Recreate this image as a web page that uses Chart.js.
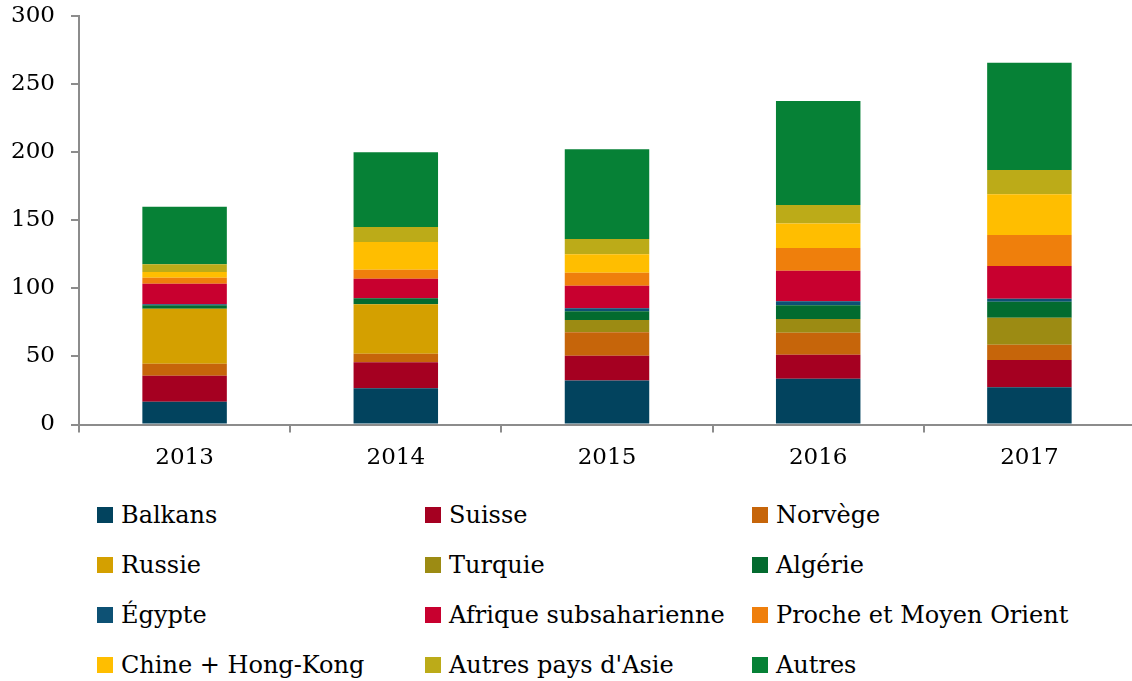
<!DOCTYPE html>
<html>
<head>
<meta charset="utf-8">
<script src="https://cdn.jsdelivr.net/npm/chart.js@4"></script>
<style>
  html, body { margin: 0; padding: 0; background: #fff; overflow: hidden; }
  #wrap { position: absolute; left: 0; top: 0; width: 1136px; height: 480px; }
  #legend {
    position: absolute; left: 97px; top: 490px;
    display: grid; grid-template-columns: 328px 327px 380px; grid-auto-rows: 50px;
    font-family: "DejaVu Serif", serif; font-size: 24px; color: #000;
  }
  .item { display: flex; align-items: center; white-space: nowrap; }
  .box { width: 16px; height: 16px; margin-right: 8px; flex: none; }
</style>
</head>
<body>
<div id="wrap"><canvas id="myChart"></canvas></div>
<div id="legend"></div>
<script>
const years = ['2013', '2014', '2015', '2016', '2017'];
const yTicks = [0, 50, 100, 150, 200, 250, 300];

const balkans = [16.7, 26.6, 32.4, 33.6, 27.3];
const suisse = [19.1, 19.1, 18.1, 17.7, 20.1];
const norvege = [8.8, 6.3, 17.2, 16.1, 11.2];
const russie = [40.4, 36.3, 0, 0, 0];
const turquie = [0, 0, 9.0, 10.1, 19.8];
const algerie = [2.5, 4.4, 6.4, 10.0, 11.8];
const egypte = [0.8, 0, 2.2, 3.0, 2.2];
const afrique = [15.1, 14.4, 16.6, 22.4, 24.0];
const proche = [4.4, 6.6, 9.6, 16.7, 22.8];
const chine = [4.2, 20.3, 13.5, 18.1, 29.9];
const asie = [5.6, 11.0, 11.2, 13.5, 17.8];
const autres = [42.4, 55.0, 65.9, 76.4, 78.8];

const series = [
    ['Balkans', balkans, '#02435e'],
    ['Suisse', suisse, '#a50021'],
    ['Norvège', norvege, '#c6650a'],
    ['Russie', russie, '#d4a000'],
    ['Turquie', turquie, '#9c8b13'],
    ['Algérie', algerie, '#036b2f'],
    ['Égypte', egypte, '#0d5174'],
    ['Afrique subsaharienne', afrique, '#c8002f'],
    ['Proche et Moyen Orient', proche, '#ef7f0c'],
    ['Chine + Hong-Kong', chine, '#ffbe00'],
    ['Autres pays d\'Asie', asie, '#bcab18'],
    ['Autres', autres, '#068136']
];

const font = { family: '"DejaVu Serif", serif', size: 23 };

const ctx = document.getElementById('myChart').getContext('2d');
const myChart = new Chart(ctx, {
    type: 'bar',
    data: {
        labels: years,
        datasets: series.map(s => ({
            label: s[0],
            data: s[1],
            backgroundColor: s[2],
            borderWidth: 0,
            barPercentage: 0.8,
            categoryPercentage: 0.5
        }))
    },
    options: {
        responsive: true,
        maintainAspectRatio: false,
        animation: false,
        layout: { padding: { top: 16, right: 1, left: 0, bottom: 0 } },
        plugins: { legend: { display: false }, tooltip: { enabled: false } },
        scales: {
            x: {
                stacked: true,
                afterFit: s => { s.height = 55.5; s.paddingLeft = 0; s.paddingRight = 0; },
                border: { color: '#8c8c8c', width: 2 },
                grid: { display: true, drawOnChartArea: false, offset: true, tickLength: 8, color: '#8c8c8c', lineWidth: 2 },
                ticks: { color: '#000', font: font, padding: 12 }
            },
            y: {
                stacked: true,
                min: 0,
                max: 300,
                afterFit: s => { s.width = 79; s.paddingTop = 0; s.paddingBottom = 0; },
                afterBuildTicks: s => { s.ticks = yTicks.map(v => ({ value: v })); },
                border: { color: '#8c8c8c', width: 2 },
                grid: { display: true, drawOnChartArea: false, tickLength: 8, color: '#8c8c8c', lineWidth: 2 },
                ticks: { color: '#000', font: font, padding: 16 }
            }
        }
    }
});

const legend = document.getElementById('legend');
series.forEach(s => {
    const item = document.createElement('div');
    item.className = 'item';
    item.innerHTML = '<span class="box" style="background:' + s[2] + '"></span><span></span>';
    item.lastChild.textContent = s[0];
    legend.appendChild(item);
});
</script>
</body>
</html>
